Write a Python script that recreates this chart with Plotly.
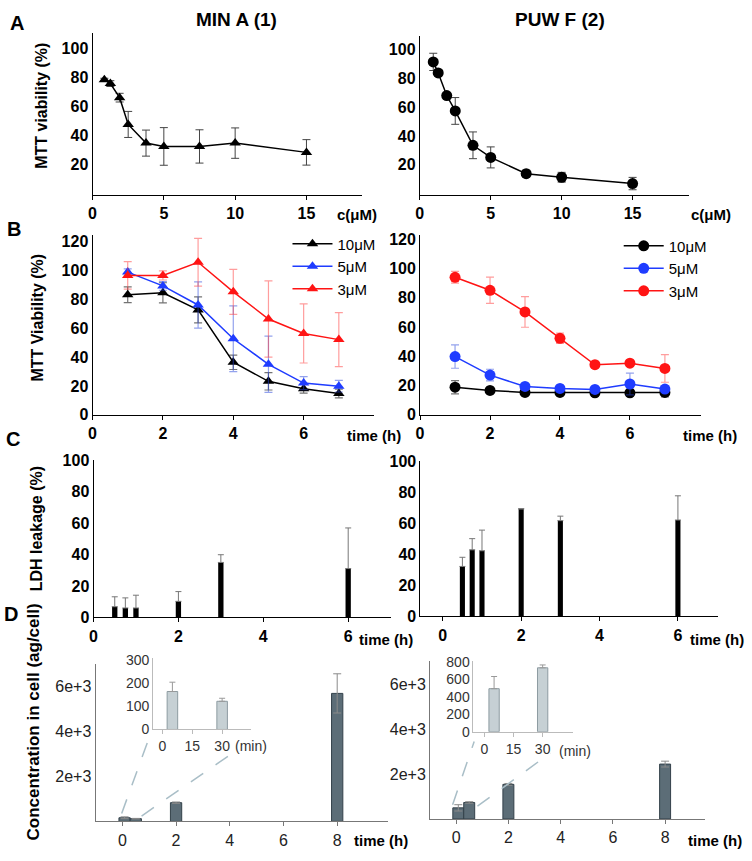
import plotly.graph_objects as go

W, H = 752, 861
FONT = "Liberation Sans, Arial, sans-serif"

# ---------------- data ----------------
# Panel A: dose response (concentration in uM)
conc_min = [0.83, 1.25, 1.9, 2.5, 3.75, 5, 7.5, 10, 15]
via_min = [78.2, 75.5, 65.8, 47.3, 34.4, 32.1, 32.1, 34.4, 28.0]
via_min_err = [1, 2, 3, 9, 9, 13, 11.5, 10.5, 8.8]
conc_puw = [0.95, 1.3, 1.9, 2.5, 3.75, 5, 7.5, 10, 15]
via_puw = [91.6, 83.9, 68.2, 57.5, 33.6, 25.2, 13.9, 11.4, 7.0]
via_puw_err = [6, 2, 2, 9.3, 9.3, 7.3, 2.3, 3.4, 4.3]

# Panel B: time course (h)
time_b = [1, 2, 3, 4, 5, 6, 7]
doses = ["10μM", "5μM", "3μM"]
min_b = {
    "10μM": [83.2, 84.5, 72.7, 36.4, 23.2, 18.0, 14.8],
    "5μM": [98.9, 89.3, 76.1, 52.7, 35.0, 22.0, 19.8],
    "3μM": [96.6, 96.6, 105.7, 85.2, 66.4, 56.4, 52.1],
}
min_b_err = {
    "10μM": [5.4, 7, 9, 5, 6, 3, 3],
    "5μM": [2.2, 3, 16, 22.8, 19.5, 4.5, 4],
    "3μM": [9.5, 3.2, 16.6, 15.6, 26.4, 20.5, 18.7],
}
puw_b = {
    "10μM": [18.7, 16.5, 15.1, 15.1, 14.9, 14.9, 15.1],
    "5μM": [39.7, 27.0, 19.2, 17.9, 17.2, 20.9, 17.4],
    "3μM": [94.0, 85.1, 70.3, 52.2, 34.1, 35.2, 31.6],
}
puw_b_err = {
    "10μM": [4.5, 1, 1, 1, 1, 1, 3],
    "5μM": [8, 4, 1, 1, 1, 7.5, 2],
    "3μM": [4, 9, 10.5, 3.5, 2, 1.5, 9.5],
}

# Panel C: LDH leakage
time_c = [0.5, 0.75, 1, 2, 3, 6]
ldh_min = [6.8, 6.0, 6.0, 10.2, 34.9, 31.0]
ldh_min_err = [6.3, 6.4, 8.1, 6.2, 4.9, 25.8]
ldh_puw = [32.2, 42.9, 42.3, 69.3, 61.7, 62.1]
ldh_puw_err = [5.9, 7.2, 13.3, 0, 2.9, 15.6]

# Panel D: concentration in cell (ag/cell)
time_d = [0.083, 0.5, 2, 8]
cell_min = [163, 121, 834, 5699]
cell_min_err = [40, 13, 30, 873]
cell_puw = [495, 735, 1541, 2445]
cell_puw_err = [140, 33, 40, 130]
inset_min_t = [5, 30]  # minutes

dose_colors = {"10μM": "#000000", "5μM": "#1f3cff", "3μM": "#ff1414"}
err_colors = {"10μM": "rgba(0,0,0,0.55)", "5μM": "rgba(40,70,220,0.5)", "3μM": "rgba(255,60,60,0.5)"}


def dx(l, r):
    return [l / W, r / W]


def dy(t, b):
    return [1 - b / H, 1 - t / H]


fig = go.Figure()

# ---- Panel A ----
fig.add_trace(go.Scatter(x=conc_min, y=via_min, mode="lines+markers", showlegend=False,
                         line=dict(color="black", width=1.5),
                         marker=dict(symbol="triangle-up", size=10, color="black"),
                         error_y=dict(type="data", array=via_min_err, color="#444", thickness=1, width=4),
                         xaxis="x", yaxis="y"))
fig.add_trace(go.Scatter(x=conc_puw, y=via_puw, mode="lines+markers", showlegend=False,
                         line=dict(color="black", width=1.5),
                         marker=dict(symbol="circle", size=11, color="black"),
                         error_y=dict(type="data", array=via_puw_err, color="#444", thickness=1, width=4),
                         xaxis="x2", yaxis="y2"))

# ---- Panel B ----
for d in doses:
    fig.add_trace(go.Scatter(x=time_b, y=min_b[d], mode="lines+markers", name=d, legend="legend",
                             line=dict(color=dose_colors[d], width=1.5),
                             marker=dict(symbol="triangle-up", size=10, color=dose_colors[d]),
                             error_y=dict(type="data", array=min_b_err[d], color=err_colors[d], thickness=1.2, width=4),
                             xaxis="x3", yaxis="y3"))
for d in doses:
    fig.add_trace(go.Scatter(x=time_b, y=puw_b[d], mode="lines+markers", name=d, legend="legend2",
                             line=dict(color=dose_colors[d], width=1.5),
                             marker=dict(symbol="circle", size=11, color=dose_colors[d]),
                             error_y=dict(type="data", array=puw_b_err[d], color=err_colors[d], thickness=1.2, width=4),
                             xaxis="x4", yaxis="y4"))

# ---- Panel C ----
fig.add_trace(go.Bar(x=time_c, y=ldh_min, width=0.125, marker=dict(color="black", line=dict(width=0)),
                     showlegend=False,
                     error_y=dict(type="data", array=ldh_min_err, arrayminus=[0] * len(ldh_min_err),
                                  symmetric=False, color="#777", thickness=1, width=3),
                     xaxis="x5", yaxis="y5"))
fig.add_trace(go.Bar(x=time_c, y=ldh_puw, width=0.13, marker=dict(color="black", line=dict(width=0)),
                     showlegend=False,
                     error_y=dict(type="data", array=ldh_puw_err, arrayminus=[0] * len(ldh_puw_err),
                                  symmetric=False, color="#777", thickness=1, width=3),
                     xaxis="x6", yaxis="y6"))

# ---- Panel D ----
bar_d = dict(color="#5c6d77", line=dict(color="#33414a", width=1))
fig.add_trace(go.Bar(x=time_d, y=cell_min, width=0.42, marker=bar_d, showlegend=False,
                     error_y=dict(type="data", array=cell_min_err, color="#8a8a8a", thickness=1, width=4),
                     xaxis="x7", yaxis="y7"))
fig.add_trace(go.Bar(x=time_d, y=cell_puw, width=0.42, marker=bar_d, showlegend=False,
                     error_y=dict(type="data", array=cell_puw_err, color="#8a8a8a", thickness=1, width=4),
                     xaxis="x8", yaxis="y8"))
bar_in = dict(color="#c6d0d4", line=dict(color="#8d9ba1", width=1))
fig.add_trace(go.Bar(x=inset_min_t, y=cell_min[:2], width=5.3, marker=bar_in, showlegend=False,
                     error_y=dict(type="data", array=cell_min_err[:2], arrayminus=[0, 0], symmetric=False,
                                  color="#999", thickness=1, width=3),
                     xaxis="x9", yaxis="y9"))
fig.add_trace(go.Bar(x=inset_min_t, y=cell_puw[:2], width=5.3, marker=bar_in, showlegend=False,
                     error_y=dict(type="data", array=cell_puw_err[:2], arrayminus=[0, 0], symmetric=False,
                                  color="#999", thickness=1, width=3),
                     xaxis="x10", yaxis="y10"))

# ---------------- axes ----------------
bold = dict(family=FONT, size=16, color="black", weight="bold")
reg = dict(family=FONT, size=16, color="#222")
small = dict(family=FONT, size=14, color="#333")


def xax(dom, rng, tv, anchor, font=bold, linecolor="black", ticks="outside"):
    return dict(domain=dom, range=rng, tickvals=tv, anchor=anchor, showline=True, linecolor=linecolor,
                linewidth=1, ticks=ticks, ticklen=4, tickcolor=linecolor, showgrid=False, zeroline=False,
                tickfont=font, fixedrange=True)


def yax(dom, rng, tv, anchor, font=bold, linecolor="black", ticktext=None):
    d = dict(domain=dom, range=rng, tickvals=tv, anchor=anchor, showline=True, linecolor=linecolor,
             linewidth=1, ticks="", showgrid=False, zeroline=False, tickfont=font, fixedrange=True)
    if ticktext is not None:
        d["ticktext"] = ticktext
    return d


layout = dict(
    width=W, height=H, margin=dict(l=0, r=0, t=0, b=0), autosize=False,
    paper_bgcolor="white", plot_bgcolor="rgba(0,0,0,0)", barmode="overlay",
    font=dict(family=FONT, color="black"),
    xaxis=xax(dx(89, 360), [0, 18.9], [0, 5, 10, 15], "y"),
    yaxis=yax(dy(25, 191), [-1.6, 110.8], [20, 40, 60, 80, 100], "x"),
    xaxis2=xax(dx(418, 689), [0, 19.0], [0, 5, 10, 15], "y2"),
    yaxis2=yax(dy(28.7, 190.7), [-0.9, 109.5], [20, 40, 60, 80, 100], "x2"),
    xaxis3=xax(dx(89, 372), [0, 8], [0, 2, 4, 6], "y3"),
    yaxis3=yax(dy(231.7, 415), [0, 124.5], [0, 20, 40, 60, 80, 100, 120], "x3"),
    xaxis4=xax(dx(418.3, 701), [0, 8.04], [0, 2, 4, 6], "y4"),
    yaxis4=yax(dy(231.7, 414.7), [0, 122.9], [0, 20, 40, 60, 80, 100, 120], "x4"),
    xaxis5=xax(dx(90, 388.7), [0, 7], [0, 2, 4, 6], "y5"),
    yaxis5=yax(dy(461, 621.7), [0, 100], [0, 20, 40, 60, 80, 100], "x5"),
    xaxis6=xax(dx(418.7, 717.7), [-0.57, 7.02], [0, 2, 4, 6], "y6"),
    yaxis6=yax(dy(462.3, 620.7), [0, 100], [0, 20, 40, 60, 80, 100], "x6"),
    xaxis7=xax(dx(92, 386), [-1, 9.89], [0, 2, 4, 6, 8], "y7", font=reg, linecolor="#777"),
    yaxis7=yax(dy(669.3, 829.8), [0, 7004], [2000, 4000, 6000], "x7", font=reg, linecolor="#777",
               ticktext=["2e+3", "4e+3", "6e+3"]),
    xaxis8=xax(dx(428.3, 704.3), [-1, 9.51], [0, 2, 4, 6, 8], "y8", font=reg, linecolor="#777"),
    yaxis8=yax(dy(666, 827.3), [0, 7044], [2000, 4000, 6000], "x8", font=reg, linecolor="#777",
               ticktext=["2e+3", "4e+3", "6e+3"]),
    xaxis9=xax(dx(150, 248.3), [-4.65, 44.5], [0, 15, 30], "y9", font=small, linecolor="#bbb"),
    yaxis9=yax(dy(663.3, 736), [0, 306], [0, 100, 200, 300], "x9", font=small, linecolor="#bbb"),
    xaxis10=xax(dx(472, 572), [-5.6, 45.6], [0, 15, 30], "y10", font=small, linecolor="#bbb"),
    yaxis10=yax(dy(666, 738.3), [0, 815], [0, 200, 400, 600, 800], "x10", font=small, linecolor="#bbb"),
    legend=dict(x=285 / W, y=1 - 224 / H, xanchor="left", yanchor="top", bgcolor="rgba(0,0,0,0)",
                font=dict(family=FONT, size=15), itemwidth=40, tracegroupgap=0),
    legend2=dict(x=618 / W, y=1 - 226 / H, xanchor="left", yanchor="top", bgcolor="rgba(0,0,0,0)",
                 font=dict(family=FONT, size=15), itemwidth=40, tracegroupgap=0),
)
fig.update_layout(**layout)

ann = []


def txt(s, x, y, size=16, xanchor="center", weight="bold", angle=0, color="black"):
    ann.append(dict(text=s, x=x / W, y=1 - y / H, xref="paper", yref="paper", showarrow=False,
                    xanchor=xanchor, yanchor="middle", textangle=angle,
                    font=dict(family=FONT, size=size, color=color, weight=weight)))


# panel letters
txt("A", 13, 15, size=20)
txt("B", 10, 225, size=20)
txt("C", 9, 440, size=20)
txt("D", 7, 618, size=20)
# titles
txt("MIN A (1)", 234, 12, size=19)
txt("PUW F (2)", 559, 12, size=19)
# y titles
txt("MTT viability (%)", 37, 100, angle=-90)
txt("MTT Viability (%)", 34, 316, angle=-90)
txt("LDH leakage (%)", 33, 531, angle=-90)
txt("Concentration in cell (ag/cell)", 30, 728, size=17, angle=-90)
# x titles
txt("c(μM)", 333, 211, size=15, xanchor="left")
txt("c(μM)", 689, 211, size=15, xanchor="left")
txt("time (h)", 343, 436, size=15, xanchor="left")
txt("time (h)", 681, 436, size=15, xanchor="left")
txt("time (h)", 355, 644, size=15, xanchor="left")
txt("time (h)", 688, 644, size=15, xanchor="left")
txt("time (h)", 350, 849, size=15, xanchor="left")
txt("time (h)", 686, 849, size=15, xanchor="left")
# inset unit labels
txt("(min)", 230, 753, size=14, xanchor="left", weight="normal", color="#333")
txt("(min)", 556, 758, size=14, xanchor="left", weight="normal", color="#333")
fig.update_layout(annotations=ann)

# zoom connector lines from main bars to insets
conn = [((118.3, 821.7), (145.7, 745)), ((138.3, 824.3), (227.7, 761.5)),
        ((451, 812.7), (472.7, 748.3)), ((476, 814.3), (549.3, 760))]
shapes = []
for (x0, y0), (x1, y1) in conn:
    shapes.append(dict(type="line", xref="paper", yref="paper", x0=x0 / W, y0=1 - y0 / H,
                       x1=x1 / W, y1=1 - y1 / H, line=dict(color="#a9bec7", width=1.5, dash="longdash")))
fig.update_layout(shapes=shapes)

fig.write_html("out.html", config={"responsive": False, "displayModeBar": False},
               post_script="document.body.style.margin='0';document.body.style.overflow='hidden';")
